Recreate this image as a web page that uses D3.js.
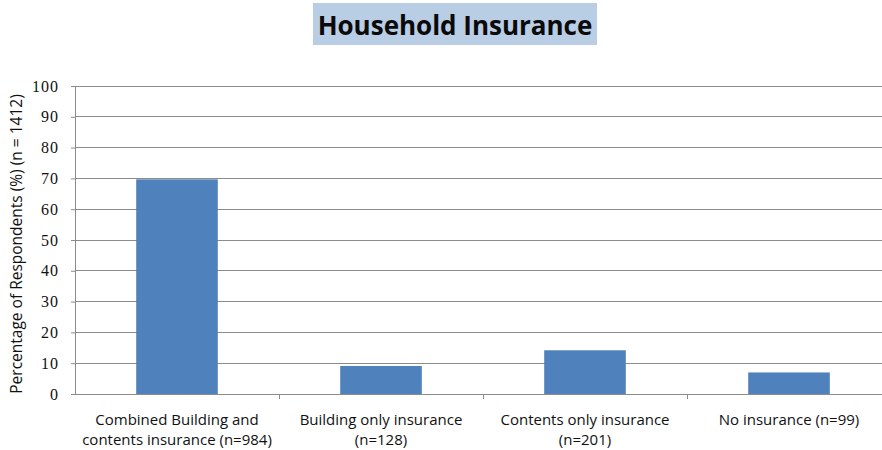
<!DOCTYPE html>
<html><head><meta charset="utf-8">
<script src="https://cdn.jsdelivr.net/npm/d3@7"></script>
<style>body{margin:0;background:#fff}svg{display:block}</style>
</head><body>
<script>
const categories = [
  ["Combined Building and", "contents insurance (n=984)"],
  ["Building only insurance", "(n=128)"],
  ["Contents only insurance", "(n=201)"],
  ["No insurance (n=99)"]
];
const values = [69.7, 9.1, 14.2, 7.0];
const yTicks = [0,10,20,30,40,50,60,70,80,90,100];
const title = "Household Insurance";
const yTitle = "Percentage of Respondents (%) (n = 1412)";

const W = 882, H = 450;
const svg = d3.select("body").append("svg").attr("width", W).attr("height", H);

const x = d3.scaleBand().domain(d3.range(categories.length)).range([75, 891]).paddingInner(0.6).paddingOuter(0.3);
const y = d3.scaleLinear().domain([0, 100]).range([394, 86]);

// title
const tg = svg.append("g");
tg.append("rect").attr("x", 313).attr("y", 3).attr("width", 284).attr("height", 42).attr("fill", "#b9cde5");
tg.append("text").attr("x", 455).attr("y", 35).attr("text-anchor", "middle")
  .attr("font-family", "Open Sans, sans-serif").attr("font-weight", "bold").attr("font-size", 26)
  .attr("fill", "#0a0a0a").text(title);

// gridlines
svg.append("g").selectAll("line").data(yTicks.filter(d => d > 0)).join("line")
  .attr("x1", 75).attr("x2", W).attr("y1", d => y(d)).attr("y2", d => y(d))
  .attr("stroke", "#8c8c8c").attr("stroke-width", 1).attr("shape-rendering", "crispEdges");

// bars
svg.append("g").selectAll("rect").data(values).join("rect")
  .attr("x", (d, i) => x(i)).attr("width", x.bandwidth())
  .attr("y", d => y(d)).attr("height", d => y(0) - y(d))
  .attr("fill", "#4f81bd");

// y axis
const yAxis = d3.axisLeft(y).tickValues(yTicks).tickSize(4).tickPadding(12);
const ya = svg.append("g").attr("transform", "translate(75,0)").call(yAxis);
ya.select(".domain").attr("stroke", "#8c8c8c");
ya.selectAll(".tick line").attr("stroke", "#8c8c8c");
ya.selectAll("text").attr("font-family", "Liberation Serif, serif").attr("font-size", 16)
  .attr("letter-spacing", 1).attr("fill", "#111");

// x axis baseline
svg.append("line").attr("x1", 71).attr("x2", W).attr("y1", y(0)).attr("y2", y(0))
  .attr("stroke", "#8c8c8c").attr("shape-rendering", "crispEdges");
// category boundary ticks
const bounds = d3.range(1, categories.length).map(i => x(i) - x.step() * x.paddingInner() / 2);
svg.append("g").selectAll("line").data(bounds).join("line")
  .attr("x1", d => d).attr("x2", d => d).attr("y1", y(0)).attr("y2", y(0) + 5)
  .attr("stroke", "#8c8c8c").attr("shape-rendering", "crispEdges");

// category labels
const cl = svg.append("g").selectAll("text").data(categories).join("text")
  .attr("x", (d, i) => x(i) + x.bandwidth() / 2).attr("y", 425)
  .attr("text-anchor", "middle").attr("font-family", "Open Sans, sans-serif").attr("font-size", 15).attr("fill", "#111");
cl.selectAll("tspan").data(d => d).join("tspan")
  .attr("x", function() { return this.parentNode.getAttribute("x"); })
  .attr("dy", (d, i) => i === 0 ? 0 : 20).text(d => d);

// y title
svg.append("text").attr("transform", "translate(22,244) rotate(-90)")
  .attr("text-anchor", "middle").attr("font-family", "Open Sans, sans-serif").attr("font-size", 15.5)
  .attr("fill", "#111").text(yTitle);
</script>
</body></html>
